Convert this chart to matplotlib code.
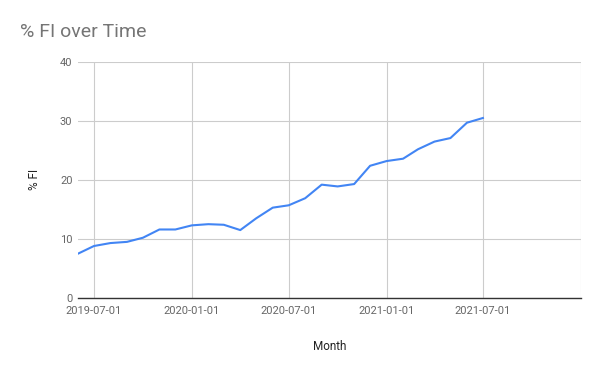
import pandas as pd
import matplotlib.pyplot as plt
import matplotlib.dates as mdates

# === Data ===
months = pd.date_range("2019-06-01", "2021-07-01", freq="MS")
fi_pct = [7.5, 8.8, 9.3, 9.5, 10.2, 11.6, 11.6, 12.3, 12.5, 12.4, 11.5, 13.5, 15.3,
          15.7, 16.9, 19.2, 18.9, 19.3, 22.4, 23.2, 23.6, 25.2, 26.5, 27.1, 29.7, 30.5]
tick_dates = pd.to_datetime(["2019-07-01", "2020-01-01", "2020-07-01",
                             "2021-01-01", "2021-07-01", "2022-01-01"])
tick_labels = ["2019-07-01", "2020-01-01", "2020-07-01", "2021-01-01", "2021-07-01", ""]
y_ticks = [0, 10, 20, 30, 40]

plt.rcParams['font.family'] = ['Roboto', 'DejaVu Sans']

fig = plt.figure(figsize=(6, 3.71), dpi=100)
ax = fig.add_axes([0.13, 0.197, 0.838, 0.636])

ax.plot(months, fi_pct, color="#4285F4", linewidth=1.5, solid_joinstyle="round")

# === Axes styling ===
ax.set_xlim(pd.Timestamp("2019-06-01"), pd.Timestamp("2022-01-01"))
ax.set_ylim(0, 40)
ax.set_xticks(tick_dates)
ax.set_xticklabels(tick_labels)
ax.set_yticks(y_ticks)
ax.grid(True, color="#cccccc", linewidth=0.8)
ax.set_axisbelow(True)
for side in ["top", "right", "left"]:
    ax.spines[side].set_visible(False)
ax.spines["bottom"].set_color("#333333")
ax.spines["bottom"].set_linewidth(1)
ax.tick_params(axis="both", length=0, labelsize=8, colors="#666666", pad=4)
ax.tick_params(axis="x", pad=6)

ax.set_xlabel("Month", fontsize=8.5, color="#222222", labelpad=17)
ax.set_ylabel("% FI", fontsize=8.5, color="#222222", labelpad=14)

fig.text(0.033, 0.915, "% FI over Time", fontsize=14, color="#757575", va="center")

fig.savefig("out.png", dpi=100)
